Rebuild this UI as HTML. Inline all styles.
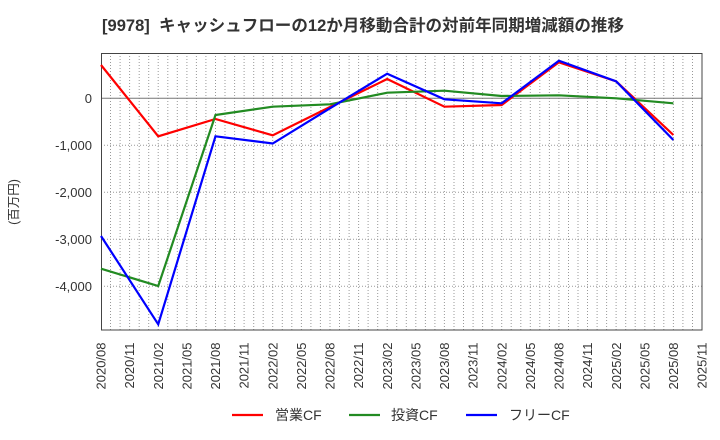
<!DOCTYPE html>
<html><head><meta charset="utf-8"><style>
html,body{margin:0;padding:0;background:#fff;}
svg{display:block;font-family:"Liberation Sans","Noto Sans CJK JP",sans-serif;}
</style></head><body>
<svg width="720" height="440" viewBox="0 0 720 440" xmlns="http://www.w3.org/2000/svg">
<rect width="720" height="440" fill="#fff"/>
<text x="102" y="31" font-size="16.5" font-weight="bold" fill="#333" textLength="522" lengthAdjust="spacingAndGlyphs">[9978]&#160; キャッシュフローの12か月移動合計の対前年同期増減額の推移</text>
<g stroke="#999" stroke-width="1" stroke-dasharray="1,2">
<line x1="101" y1="145.3" x2="702" y2="145.3"/>
<line x1="101" y1="192.3" x2="702" y2="192.3"/>
<line x1="101" y1="239.3" x2="702" y2="239.3"/>
<line x1="101" y1="286.3" x2="702" y2="286.3"/>
</g>
<g stroke="#999" stroke-width="1" stroke-dasharray="1,2">
<path d="M110.5 53V330M120.1 53V330M129.6 53V330M139.2 53V330M148.7 53V330M158.2 53V330M167.8 53V330M177.3 53V330M186.9 53V330M196.4 53V330M205.9 53V330M215.5 53V330M225 53V330M234.6 53V330M244.1 53V330M253.7 53V330M263.2 53V330M272.7 53V330M282.3 53V330M291.8 53V330M301.4 53V330M310.9 53V330M320.4 53V330M330 53V330M339.5 53V330M349.1 53V330M358.6 53V330M368.1 53V330M377.7 53V330M387.2 53V330M396.7 53V330M406.3 53V330M415.8 53V330M425.4 53V330M434.9 53V330M444.4 53V330M454 53V330M463.5 53V330M473.1 53V330M482.6 53V330M492.1 53V330M501.7 53V330M511.2 53V330M520.8 53V330M530.3 53V330M539.8 53V330M549.4 53V330M558.9 53V330M568.5 53V330M578 53V330M587.5 53V330M597.1 53V330M606.6 53V330M616.1 53V330M625.7 53V330M635.2 53V330M644.8 53V330M654.3 53V330M663.8 53V330M673.4 53V330M682.9 53V330M692.5 53V330"/>
</g>
<line x1="101" y1="98.3" x2="702" y2="98.3" stroke="#777" stroke-width="1"/>
<rect x="101.5" y="53.5" width="600.5" height="276.5" fill="none" stroke="#444" stroke-width="1"/>
<g font-size="13" fill="#333" text-anchor="end">
<text x="92" y="103">0</text>
<text x="92" y="150">-1,000</text>
<text x="92" y="197">-2,000</text>
<text x="92" y="244">-3,000</text>
<text x="92" y="291">-4,000</text>
</g>
<text transform="translate(18,202) rotate(-90)" font-size="12.5" fill="#333" text-anchor="middle">(百万円)</text>
<g font-size="13" fill="#333" text-anchor="end">
<text transform="translate(105.6,342.5) rotate(-90)">2020/08</text>
<text transform="translate(134.2,342.5) rotate(-90)">2020/11</text>
<text transform="translate(162.8,342.5) rotate(-90)">2021/02</text>
<text transform="translate(191.5,342.5) rotate(-90)">2021/05</text>
<text transform="translate(220.1,342.5) rotate(-90)">2021/08</text>
<text transform="translate(248.7,342.5) rotate(-90)">2021/11</text>
<text transform="translate(277.3,342.5) rotate(-90)">2022/02</text>
<text transform="translate(305.9,342.5) rotate(-90)">2022/05</text>
<text transform="translate(334.6,342.5) rotate(-90)">2022/08</text>
<text transform="translate(363.2,342.5) rotate(-90)">2022/11</text>
<text transform="translate(391.8,342.5) rotate(-90)">2023/02</text>
<text transform="translate(420.4,342.5) rotate(-90)">2023/05</text>
<text transform="translate(449,342.5) rotate(-90)">2023/08</text>
<text transform="translate(477.7,342.5) rotate(-90)">2023/11</text>
<text transform="translate(506.3,342.5) rotate(-90)">2024/02</text>
<text transform="translate(534.9,342.5) rotate(-90)">2024/05</text>
<text transform="translate(563.5,342.5) rotate(-90)">2024/08</text>
<text transform="translate(592.1,342.5) rotate(-90)">2024/11</text>
<text transform="translate(620.8,342.5) rotate(-90)">2025/02</text>
<text transform="translate(649.4,342.5) rotate(-90)">2025/05</text>
<text transform="translate(678,342.5) rotate(-90)">2025/08</text>
<text transform="translate(706.6,342.5) rotate(-90)">2025/11</text>
</g>
<g fill="none" stroke-width="2.2" stroke-linejoin="miter">
<polyline stroke="#ff0000" points="101,65 158.24,136.3 215.48,119 272.71,135.3 329.95,107 387.19,79 444.43,106.7 501.67,105 558.9,62.3 616.14,81.3 673.38,135"/>
<polyline stroke="#228b22" points="101,268.7 158.24,286 215.48,115 272.71,106.7 329.95,104.3 387.19,92.7 444.43,90.7 501.67,96 558.9,95.3 616.14,98.3 673.38,103.3"/>
<polyline stroke="#0000ff" points="101,236 158.24,324.3 215.48,136.3 272.71,143.5 329.95,108.3 387.19,73.7 444.43,99.3 501.67,103.3 558.9,60.7 616.14,81.3 673.38,140"/>
</g>
<g font-size="14" fill="#333">
<line x1="232" y1="415" x2="263" y2="415" stroke="#ff0000" stroke-width="2.2"/>
<text x="275" y="420">営業CF</text>
<line x1="349" y1="415" x2="380" y2="415" stroke="#228b22" stroke-width="2.2"/>
<text x="391" y="420">投資CF</text>
<line x1="466" y1="415" x2="497" y2="415" stroke="#0000ff" stroke-width="2.2"/>
<text x="509" y="420">フリーCF</text>
</g>
</svg>
</body></html>
